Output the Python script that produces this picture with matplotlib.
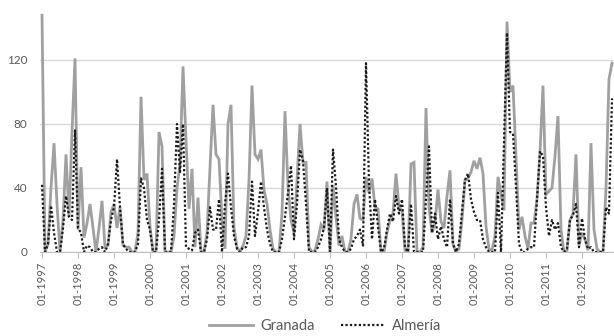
import matplotlib
matplotlib.use("Agg")
import matplotlib.pyplot as plt

# Monthly values, one row per year (01-1997 .. 11-2012)
granada = [
    148, 0, 5, 40, 68, 30, 0, 20, 61, 22, 75, 121,      # 1997
    14, 53, 9, 18, 30, 15, 0, 15, 32, 3, 4, 25,         # 1998
    30, 15, 28, 4, 3, 3, 0, 0, 12, 97, 45, 49,          # 1999
    16, 0, 0, 75, 66, 0, 0, 0, 10, 40, 55, 116,         # 2000
    70, 27, 52, 3, 34, 0, 0, 12, 53, 92, 61, 58,        # 2001
    20, 2, 80, 92, 15, 3, 0, 4, 10, 45, 104, 61,        # 2002
    58, 64, 39, 30, 14, 2, 0, 0, 24, 88, 41, 20,        # 2003
    12, 45, 80, 56, 56, 3, 0, 1, 8, 17, 14, 44,         # 2004
    0, 42, 22, 4, 10, 0, 0, 8, 30, 36, 21, 20,          # 2005
    47, 37, 46, 28, 27, 0, 0, 12, 20, 24, 49, 28,       # 2006
    26, 1, 0, 55, 56, 0, 0, 3, 90, 28, 12, 18,          # 2007
    39, 19, 15, 35, 51, 5, 0, 2, 20, 45, 46, 50,        # 2008
    57, 52, 59, 49, 16, 2, 1, 10, 47, 36, 26, 144,      # 2009
    100, 104, 60, 14, 22, 10, 2, 18, 18, 33, 62, 104,   # 2010
    36, 38, 40, 60, 85, 14, 0, 1, 20, 24, 61, 4,        # 2011
    12, 8, 1, 68, 14, 2, 0, 0, 40, 108, 118,            # 2012
]

almeria = [
    42, 0, 5, 29, 12, 0, 0, 15, 35, 22, 20, 76,         # 1997
    15, 12, 0, 4, 3, 0, 0, 2, 3, 0, 5, 20,              # 1998
    28, 58, 28, 5, 2, 0, 0, 0, 5, 46, 40, 20,           # 1999
    14, 0, 0, 20, 52, 0, 0, 0, 30, 80, 50, 80,          # 2000
    3, 2, 1, 12, 14, 0, 0, 8, 28, 14, 14, 33,           # 2001
    0, 30, 49, 28, 10, 2, 0, 3, 3, 10, 44, 10,          # 2002
    25, 44, 28, 14, 5, 0, 0, 0, 8, 22, 37, 54,          # 2003
    8, 30, 64, 57, 30, 0, 0, 0, 3, 8, 15, 40,           # 2004
    0, 64, 41, 8, 3, 0, 0, 2, 8, 10, 14, 4,             # 2005
    118, 43, 8, 33, 16, 0, 2, 14, 24, 19, 35, 24,       # 2006
    33, 3, 0, 30, 0, 0, 0, 0, 33, 66, 12, 24,           # 2007
    8, 16, 8, 3, 33, 5, 0, 5, 25, 45, 49, 33,           # 2008
    25, 20, 20, 8, 3, 0, 0, 0, 37, 0, 68, 137,          # 2009
    75, 74, 41, 5, 0, 0, 2, 3, 3, 33, 63, 60,           # 2010
    28, 10, 20, 14, 18, 3, 0, 2, 20, 23, 30, 3,         # 2011
    21, 8, 2, 3, 0, 0, 0, 0, 28, 24, 96,                # 2012
]

years = list(range(1997, 2013))
tick_labels = ["01-%d" % y for y in years]
y_ticks = [0, 40, 80, 120]

months = list(range(len(granada)))
text_col = "#595959"

fig = plt.figure(figsize=(6.14, 3.36), dpi=100)
ax = fig.add_axes([40 / 614, 84 / 336, 574 / 614, 252 / 336])

ax.plot(months, granada, color="#a0a0a0", lw=2.0, label="Granada", solid_joinstyle="miter")
ax.plot(months, almeria, color="#1a1a1a", lw=1.6, ls=(0, (1, 1)), label="Almería")

ax.set_xlim(-0.67, 190.67)
ax.set_ylim(0, 157.5)

ax.set_yticks(y_ticks)
ax.set_xticks([12 * i for i in range(len(years))])
ax.set_xticklabels(tick_labels, rotation=90)
ax.grid(axis="y", color="#d9d9d9", lw=1.0)
ax.set_axisbelow(True)

for s in ["top", "right", "left"]:
    ax.spines[s].set_visible(False)
ax.spines["bottom"].set_color("#bfbfbf")
ax.tick_params(axis="y", length=0, pad=9, labelsize=8.5, labelcolor=text_col)
ax.tick_params(axis="x", length=4, width=0.8, color="#bfbfbf", pad=3,
               labelsize=8, labelcolor=text_col)
for lab in ax.get_xticklabels() + ax.get_yticklabels():
    lab.set_family("Lato")

# legend centred under the plot
leg = fig.legend(loc="center", bbox_to_anchor=(0.53, 0.03), ncol=2, frameon=False,
                 prop={"family": "Lato", "size": 10.5}, handlelength=3.0,
                 columnspacing=1.8, handletextpad=0.5)
for t in leg.get_texts():
    t.set_color(text_col)

fig.savefig("out.png", dpi=100)
